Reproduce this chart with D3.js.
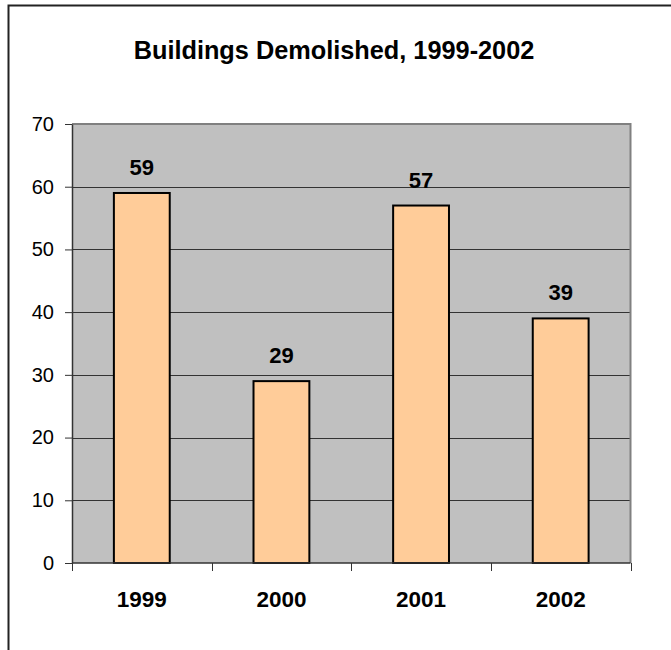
<!DOCTYPE html>
<html>
<head>
<meta charset="utf-8">
<script src="https://cdn.jsdelivr.net/npm/d3@7"></script>
<style>
html,body{margin:0;padding:0;background:#fff;}
svg{display:block;}
text{font-family:"Liberation Sans", Arial, sans-serif;fill:#000;}
</style>
</head>
<body>
<svg id="chart" width="671" height="650"></svg>
<script>
const title = "Buildings Demolished, 1999-2002";
const categories = ["1999", "2000", "2001", "2002"];
const values = [59, 29, 57, 39];
const yTicks = [0, 10, 20, 30, 40, 50, 60, 70];

const svg = d3.select("#chart");
const W = 671, H = 650;
const plot = {left: 72, right: 630.5, top: 124, bottom: 563};

// outer frame (top and left visible)
svg.append("path")
  .attr("d", `M8.5,${H} L8.5,5.5 L${W},5.5`)
  .attr("fill", "none").attr("stroke", "#222").attr("stroke-width", 2);

// title
svg.append("text")
  .attr("x", 334).attr("y", 59)
  .attr("text-anchor", "middle")
  .attr("font-size", 25.3).attr("font-weight", "bold")
  .text(title);

const x = d3.scaleBand().domain(categories)
  .range([plot.left, plot.right])
  .paddingInner(0.6).paddingOuter(0.3);
const y = d3.scaleLinear().domain([0, 70]).range([plot.bottom, plot.top]);

// plot background
svg.append("rect")
  .attr("x", plot.left).attr("y", plot.top)
  .attr("width", plot.right - plot.left).attr("height", plot.bottom - plot.top)
  .attr("fill", "#C0C0C0");

// gridlines
svg.append("g").selectAll("line").data(yTicks.filter(d => d > 0 && d < 70)).join("line")
  .attr("x1", plot.left).attr("x2", plot.right)
  .attr("y1", d => Math.round(y(d)) + 0.5).attr("y2", d => Math.round(y(d)) + 0.5)
  .attr("stroke", "#333").attr("stroke-width", 1);

// plot border top/right
svg.append("path")
  .attr("d", `M${plot.left},${plot.top} L${plot.right},${plot.top} L${plot.right},${plot.bottom}`)
  .attr("fill", "none").attr("stroke", "#808080").attr("stroke-width", 2);

// bars
svg.append("g").selectAll("rect").data(values).join("rect")
  .attr("x", (d, i) => x(categories[i]))
  .attr("y", d => y(d))
  .attr("width", x.bandwidth())
  .attr("height", d => y(0) - y(d))
  .attr("fill", "#FFCC99")
  .attr("stroke", "#000").attr("stroke-width", 2);

// value labels
svg.append("g").selectAll("text").data(values).join("text")
  .attr("x", (d, i) => x(categories[i]) + x.bandwidth() / 2)
  .attr("y", d => y(d) - 18)
  .attr("text-anchor", "middle")
  .attr("font-size", 22).attr("font-weight", "bold")
  .text(d => d);

// y axis
const yAxis = d3.axisLeft(y).tickValues(yTicks).tickSize(7).tickPadding(11).tickSizeOuter(0);
const gy = svg.append("g").attr("transform", `translate(${plot.left},0)`).call(yAxis);
gy.select(".domain").attr("stroke", "#333").attr("stroke-width", 1.5);
gy.selectAll(".tick line").attr("stroke", "#333");
gy.selectAll(".tick text").attr("font-size", 20)
  .attr("font-family", "Liberation Sans, Arial, sans-serif").attr("fill", "#000");

// x axis baseline
svg.append("line")
  .attr("x1", plot.left).attr("x2", plot.right)
  .attr("y1", plot.bottom).attr("y2", plot.bottom)
  .attr("stroke", "#333").attr("stroke-width", 1.5);

// category boundary ticks
const step = x.step();
const bounds = categories.map(c => x(c) - step * x.paddingInner() / 2).concat([plot.right]);
svg.append("g").selectAll("line").data(bounds).join("line")
  .attr("x1", d => Math.round(d) + 0.5).attr("x2", d => Math.round(d) + 0.5)
  .attr("y1", plot.bottom).attr("y2", plot.bottom + 8)
  .attr("stroke", "#333").attr("stroke-width", 1);

// category labels
svg.append("g").selectAll("text").data(categories).join("text")
  .attr("x", d => x(d) + x.bandwidth() / 2)
  .attr("y", 606.5)
  .attr("text-anchor", "middle")
  .attr("font-size", 22.5).attr("font-weight", "bold")
  .text(d => d);
</script>
</body>
</html>
